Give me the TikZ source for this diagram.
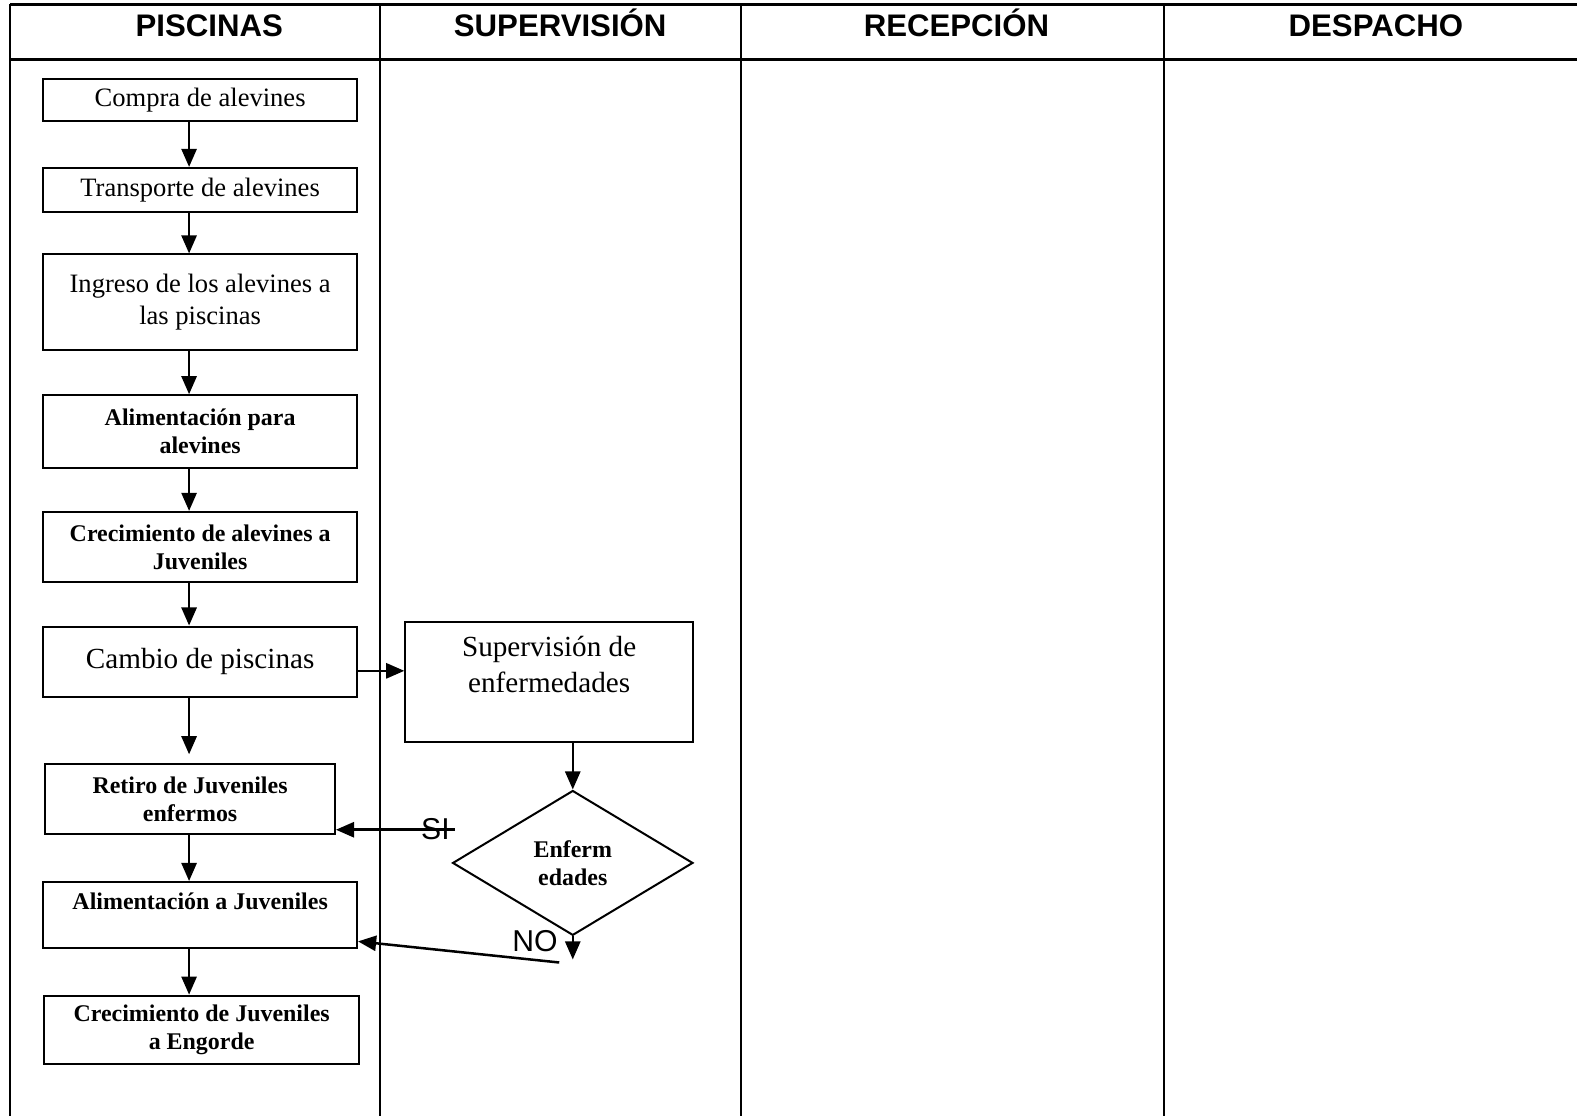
\documentclass[tikz,border=0pt]{standalone}
\usepackage{fontspec}
\setmainfont{Liberation Serif}
\newfontfamily\headfont{Liberation Sans}
\usetikzlibrary{arrows.meta,shapes.geometric,calc}

\begin{document}
\begin{tikzpicture}[x=1pt,y=-1pt,
  rule/.style={line width=3pt},
  lane/.style={line width=2.2pt},
  box/.style={draw, line width=2pt, inner sep=0pt, align=center, minimum width=312pt},
  plain/.style={font=\fontsize{26.4}{32}\selectfont},
  large/.style={font=\fontsize{29}{35}\selectfont},
  heavy/.style={font=\fontsize{23.8}{28}\selectfont\bfseries},
  flow/.style={line width=2.5pt, -{Triangle[length=18pt,width=15pt]}},
  head/.style={font=\headfont\fontsize{31}{36}\selectfont\bfseries, anchor=base, inner sep=0pt},
  tag/.style={font=\headfont\fontsize{30}{34}\selectfont, inner sep=0pt}
]
\useasboundingbox (0,0) rectangle (1568,1110);

% swimlane grid
\draw[rule] (10,4) -- (1568,4);
\draw[rule] (10,59) -- (1568,59);
\draw[lane] (10,4) -- (10,1110);
\draw[lane] (378,4) -- (378,1110);
\draw[lane] (737,4) -- (737,1110);
\draw[lane] (1157,4) -- (1157,1110);

% lane titles, sharing one baseline
\node[head] (hp) at (208,36) {PISCINAS};
\node[head] (hs) at (557,36) {SUPERVISIÓN};
\node[head] (hr) at (951,36) {RECEPCIÓN};
\node[head] (hd) at (1368,36) {DESPACHO};

% process steps
\node[box,plain,minimum height=41pt] (b1) at (199,99.5) {Compra de alevines};
\node[box,plain,minimum height=44pt] (b2) at (199,189) {Transporte de alevines};
\node[box,plain,minimum height=95pt] (b3) at (199,300.5) {Ingreso de los alevines a\\las piscinas};
\node[box,heavy,minimum height=72pt] (b4) at (199,429) {Alimentación para\\alevines};
\node[box,heavy,minimum height=70pt] (b5) at (199,544) {Crecimiento de alevines a\\Juveniles};
\node[box,large,minimum height=70pt] (b6) at (199,658) {Cambio de piscinas};
\node[box,heavy,minimum height=69pt,minimum width=288pt] (b7) at (189,794.5) {Retiro de Juveniles\\enfermos};
\node[box,heavy,minimum height=66pt] (b8) at (199,910) {Alimentación a Juveniles\\\mbox{}};
\node[box,heavy,minimum height=68pt,minimum width=313pt] (b9) at (200.5,1024) {Crecimiento de Juveniles\\a Engorde};
\node[box,large,minimum width=286pt,minimum height=120pt] (sup) at (546,678) {Supervisión de\\enfermedades\\\mbox{}};
\node[draw,diamond,line width=2pt,minimum width=239pt,minimum height=144pt,inner sep=0pt,heavy,align=center] (dec) at (569.5,858) {Enferm\\edades};

% connectors
\coordinate (ax) at (188,0);
\draw[flow] (b1.south -| ax) -- (b2.north -| ax);
\draw[flow] (b2.south -| ax) -- (b3.north -| ax);
\draw[flow] (b3.south -| ax) -- (b4.north -| ax);
\draw[flow] (b4.south -| ax) -- (b5.north -| ax);
\draw[flow] (b5.south -| ax) -- (b6.north -| ax);
\draw[flow] (b6.south -| ax) -- ($(b7.north -| ax)+(0,-9)$);
\draw[flow] (b7.south -| ax) -- (b8.north -| ax);
\draw[flow] (b8.south -| ax) -- (b9.north -| ax);
\draw[flow] ($(b6.east)+(0,9)$) -- ($(sup.west |- b6.east)+(0,9)$);
\draw[flow] (sup.south -| dec.north) -- (dec.north);

% decision outcomes
\coordinate (siend) at (452,825);
\draw[flow] (siend) -- (siend -| b7.east);
\node[tag] (si) at (433,824) {SI};
\coordinate (nodrop) at (569.5,954);
\draw[flow] (dec.south) -- (nodrop);
\coordinate (noend) at (556,957);
\draw[flow] (noend) -- ($(b8.east)+(0,26)$);
\node[tag] (no) at (532,936) {NO};
\end{tikzpicture}
\end{document}
